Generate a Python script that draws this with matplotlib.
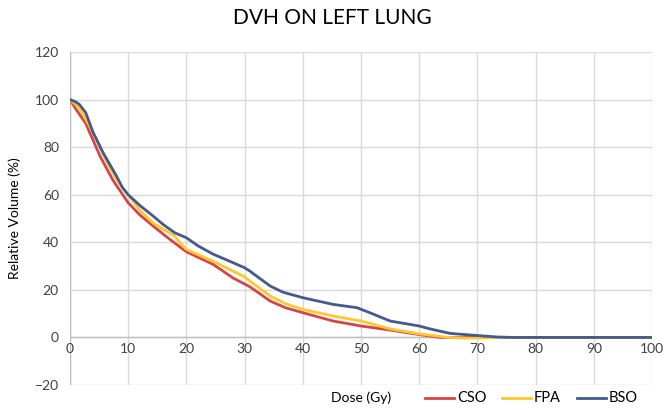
import matplotlib
matplotlib.use("Agg")
import matplotlib.pyplot as plt
from matplotlib.lines import Line2D

plt.rcParams['font.family'] = ['Lato', 'DejaVu Sans']

# dose (Gy) / relative volume (%)
cso_dose = [0, 1, 2.7, 5.2, 7.4, 10, 12, 14.3, 17, 20, 24.6, 28, 30.9, 34.4, 37, 40, 45.2, 50, 55, 60, 63.6, 70, 80, 90, 100]
cso_vol = [100, 96, 90, 76, 66, 56.6, 51.5, 46.8, 41.5, 36, 30.7, 25, 21.3, 15.3, 12.5, 10.4, 6.9, 4.8, 3.1, 1.2, 0, 0, 0, 0, 0]

fpa_dose = [0, 1.6, 3.8, 6.3, 8, 10, 12, 14.3, 18, 19, 20, 24.6, 30, 30.9, 34.4, 37, 40, 45.2, 50, 55, 60, 65, 68, 75, 80, 90, 100]
fpa_vol = [100, 96.5, 87, 74, 66.5, 60, 53.5, 48, 42.6, 39.5, 37, 32, 25.5, 23.7, 17.4, 14.2, 11.8, 9, 6.9, 3.6, 1.5, 0, -0.3, 0, 0, 0, 0]

bso_dose = [0, 1, 1.6, 2.7, 4, 5.7, 8, 9, 10, 12, 14.3, 16, 18, 20, 22, 24.6, 27, 30, 30.9, 32.5, 34.4, 36.6, 40, 45.2, 49.3, 51.5, 55, 60, 62, 65.3, 70, 73.3, 76, 80, 90, 100]
bso_vol = [100, 99, 98, 94.5, 86, 77.6, 67.8, 63, 60, 55.5, 51, 47.5, 44, 41.9, 38.5, 35, 32.5, 29.3, 27.9, 25, 21.6, 19, 16.7, 13.9, 12.5, 10.4, 6.9, 4.8, 3.5, 1.7, 0.8, 0.2, 0, 0, 0, 0]

series = [("CSO", cso_dose, cso_vol, "#d64545"),
          ("FPA", fpa_dose, fpa_vol, "#ffc830"),
          ("BSO", bso_dose, bso_vol, "#44598c")]

W, H = 665, 411
fig = plt.figure(figsize=(W / 100, H / 100), dpi=100)
ax = fig.add_axes([70 / W, 1 - 385 / H, 582 / W, 333 / H])

for name, d, v, c in series:
    ax.plot(d, v, color=c, lw=2.0, solid_capstyle='round', solid_joinstyle='round', zorder=3)

ax.set_xlim(0, 100)
ax.set_ylim(-20, 120)
ax.set_xticks(range(0, 101, 10))
ax.set_yticks(range(-20, 121, 20))
ax.grid(True, color="#d9d9d9", lw=1.0)
ax.set_axisbelow(True)
for s in ax.spines.values():
    s.set_visible(False)
ax.axhline(0, color="#bfbfbf", lw=1.0, zorder=2)
ax.axvline(0, color="#bfbfbf", lw=1.0, zorder=2)
ax.tick_params(length=0, labelsize=10, colors="#404040")
ax.tick_params(axis='y', pad=8)

# x tick labels sit right under the zero line, like the original
ax.set_xticklabels([])
for t in range(0, 101, 10):
    ax.text(t, -2.5, str(t), ha='center', va='top', fontsize=10, color="#404040")

ax.set_ylabel("Relative Volume (%)", fontsize=10, color="#000000", labelpad=10)
fig.text(0.5, 1 - 18 / H, "DVH ON LEFT LUNG", ha='center', va='center', fontsize=15)

# bottom row: axis title + legend, placed by pixel like the original
ly = 1 - 398 / H
fig.text(361 / W, ly, "Dose (Gy)", ha='center', va='center', fontsize=10)
for (name, _, _, c), x0 in zip(series, [425, 502, 577]):
    fig.add_artist(Line2D([x0 / W, (x0 + 29) / W], [ly, ly], color=c, lw=2.0,
                          transform=fig.transFigure))
    fig.text((x0 + 32) / W, ly, name, ha='left', va='center', fontsize=10.5)

fig.savefig("out.png", dpi=100)
